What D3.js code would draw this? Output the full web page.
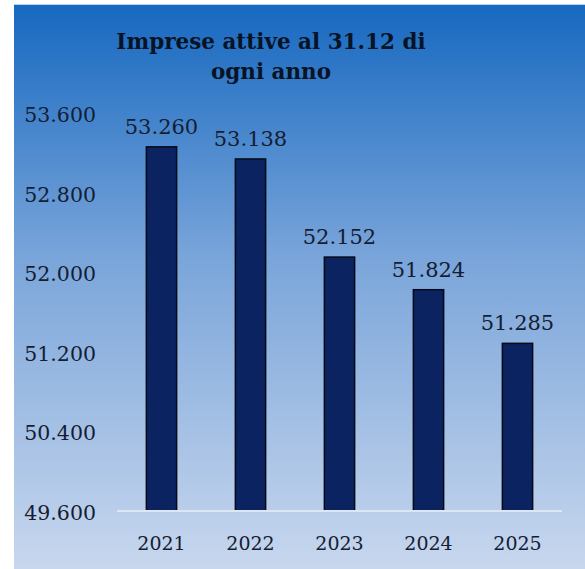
<!DOCTYPE html>
<html>
<head>
<meta charset="utf-8">
<script src="https://cdn.jsdelivr.net/npm/d3@7"></script>
<style>
    body { margin: 0; background: #ffffff; }
    text { font-family: "DejaVu Serif", "Liberation Serif", serif; }
</style>
</head>
<body>
<div id="canvas"></div>
<script>
"use strict"

let years = ["2021", "2022", "2023", "2024", "2025"]
let imprese = [53260, 53138, 52152, 51824, 51285]
let yTicks = [49600, 50400, 51200, 52000, 52800, 53600]
let titleLines = ["Imprese attive al 31.12 di", "ogni anno"]

let svgWidth = 585
let svgHeight = 569

let svg = d3.select("#canvas")
    .append("svg")
    .attr("width", svgWidth)
    .attr("height", svgHeight)

let defs = svg.append("defs")
let grad = defs.append("linearGradient")
    .attr("id", "bg")
    .attr("x1", 0).attr("y1", 0)
    .attr("x2", 0).attr("y2", 1)
grad.append("stop").attr("offset", "0%").attr("stop-color", "#1668c0")
grad.append("stop").attr("offset", "45%").attr("stop-color", "#7aa5da")
grad.append("stop").attr("offset", "100%").attr("stop-color", "#c8d7ee")

svg.append("rect")
    .attr("x", 14)
    .attr("y", 4)
    .attr("width", svgWidth - 14)
    .attr("height", svgHeight - 4)
    .attr("fill", "url(#bg)")

svg.append("line")
    .attr("x1", 14).attr("x2", svgWidth)
    .attr("y1", 4.5).attr("y2", 4.5)
    .attr("stroke", "#b9d3ee")
    .attr("stroke-width", 1)

let xScale = d3.scaleBand()
    .domain(years)
    .range([117, 562])
    .paddingInner(0.66)
    .paddingOuter(0.33)

let yScale = d3.scaleLinear()
    .domain([49600, 53600])
    .range([511, 113])

// titolo
svg.append("text")
    .attr("x", 271)
    .attr("y", 49)
    .attr("text-anchor", "middle")
    .attr("font-size", 21.5)
    .attr("font-weight", "bold")
    .attr("fill", "#081324")
    .selectAll("tspan")
    .data(titleLines)
    .join("tspan")
    .attr("x", 271)
    .attr("dy", function (d, i) { return i === 0 ? 0 : 30 })
    .text(function (d) { return d })

let fmt = function (v) {
    return d3.format(",")(v).replace(/,/g, ".")
}

// asse y
let yAxis = svg.append("g")
    .attr("transform", "translate(96,2)")
    .call(d3.axisLeft(yScale).tickValues(yTicks).tickFormat(fmt).tickSize(0).tickPadding(0))
yAxis.select(".domain").remove()
yAxis.selectAll("text")
    .attr("font-size", 20.5)
    .attr("fill", "#151d33")
    .attr("font-family", "DejaVu Serif")

// barre
svg.selectAll("rect.bar")
    .data(imprese)
    .join("rect")
    .classed("bar", true)
    .attr("x", function (d, i) { return xScale(years[i]) })
    .attr("y", function (d) { return yScale(d) })
    .attr("width", xScale.bandwidth())
    .attr("height", function (d) { return yScale(49600) - yScale(d) })
    .attr("fill", "#0b2461")
    .attr("stroke", "#050a18")
    .attr("stroke-width", 1.5)

// linea base
svg.append("line")
    .attr("x1", 117).attr("x2", 562)
    .attr("y1", yScale(49600)).attr("y2", yScale(49600))
    .attr("stroke", "#dde7f4")
    .attr("stroke-width", 2)

// etichette valori
svg.selectAll("text.val")
    .data(imprese)
    .join("text")
    .classed("val", true)
    .attr("x", function (d, i) { return xScale(years[i]) + xScale.bandwidth() / 2 })
    .attr("y", function (d) { return yScale(d) - 13 })
    .attr("text-anchor", "middle")
    .attr("font-size", 21)
    .attr("fill", "#151d33")
    .text(fmt)

// asse x
let xAxis = svg.append("g")
    .attr("transform", `translate(0, ${yScale(49600)})`)
    .call(d3.axisBottom(xScale).tickSize(0).tickPadding(26))
xAxis.select(".domain").remove()
xAxis.selectAll("text")
    .attr("font-size", 19)
    .attr("fill", "#151d33")
    .attr("font-family", "DejaVu Serif")
</script>
</body>
</html>
